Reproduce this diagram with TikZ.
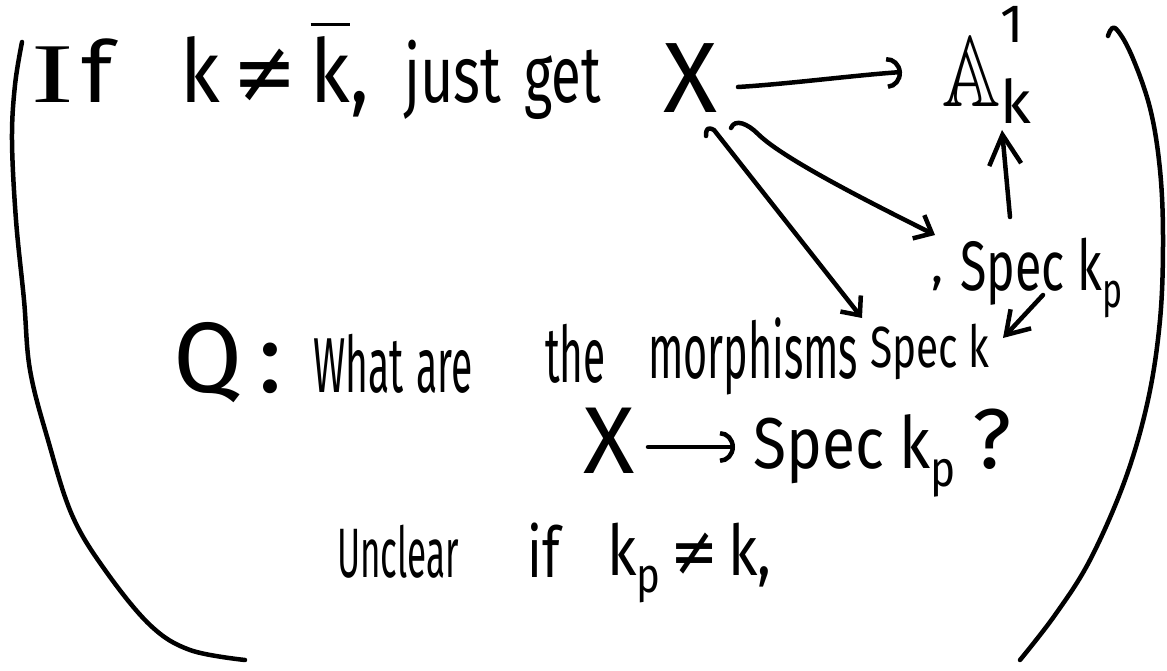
\documentclass[tikz,border=0pt]{standalone}
\usepackage{amsmath,amssymb}
\usepackage{graphicx}
\usepackage{fontspec}
\setmainfont{Fira Sans}
\newfontfamily\symf{DejaVu Sans}
\newfontfamily\serif{Liberation Serif}
\usetikzlibrary{arrows.meta}
\newcommand{\fsz}[1]{\fontsize{#1}{#1}\selectfont}
\newcommand{\hsc}[2]{\scalebox{#1}[1]{#2}}
\newcommand{\neqs}{{\symf ≠}}
\begin{document}
\begin{tikzpicture}[x=1pt,y=-1pt,
  pen/.style={line width=4.5pt,line cap=round,line join=round},
  txt/.style={inner sep=0pt,anchor=base west},
  ctr/.style={inner sep=0pt},
  arcarrow/.style={pen,-{Arc Barb[length=15pt,width=32pt]}},
  vee/.style={pen,-{Straight Barb[length=15pt,width=26pt]}}]
\fill[white] (0,0) rectangle (1167,671);
\useasboundingbox (0,0) rectangle (1167,671);

% line 1
\node[txt] (tIf) at (31,103) {\fsz{85}\hsc{1.5}{\serif I}\kern8pt\hsc{1.1}{f}};
\node[txt] (tKK) at (180,103) {\fsz{88}\hsc{0.88}{k\,\neqs\,$\overline{\text{k}}$,}};
\node[txt] (tJust) at (404,103) {\fsz{80}\hsc{0.72}{just}};
\node[txt] (tGet) at (524,103) {\fsz{80}\hsc{0.68}{get}};
\node[ctr] (X1) at (690,78) {\fsz{100}X};
\node[txt] (A) at (942,107) {{\fsz{24}\scalebox{3.35}[4.2]{$\mathbb{A}$}}\makebox[0pt][l]{\raisebox{64pt}{\fsz{54}1}}\raisebox{-17pt}{\fsz{60}k}};

% diagram
\node[txt] (cm) at (931,282) {\fsz{50},};
\node[txt] (Skp) at (960,290) {\fsz{70}\hsc{0.69}{Spec k\textsubscript{p}}};
\node[txt] (Sk) at (870,367) {\fsz{58}\hsc{0.7}{Spec k}};

% Q line
\node[txt] (Q) at (173,392) {\fsz{100}Q\,:};
\node[txt] (wWhat) at (313,392) {\fsz{78}\hsc{0.5}{What}};
\node[txt] (wAre) at (416,392) {\fsz{78}\hsc{0.5}{are}};
\node[txt] (wThe) at (545,382) {\fsz{78}\hsc{0.52}{the}};
\node[txt] (wMor) at (648,378) {\fsz{78}\hsc{0.53}{morphisms}};

% line 3
\node[ctr] (X3) at (609,441) {\fsz{95}X};
\node[txt] (Skp3) at (753,468) {\fsz{72}\hsc{0.84}{Spec k\textsubscript{p}}};
\node[txt] (qm) at (972,468) {\fsz{85}?};

% line 4
\node[txt] (wUn) at (337,577) {\fsz{70}\hsc{0.5}{Unclear}};
\node[txt] (wIf) at (527,577) {\fsz{70}\hsc{0.75}{if}};
\node[txt] (wKp) at (607,575) {\fsz{70}\hsc{0.82}{k\textsubscript{p}\,\neqs\,k,}};

% arrows
\draw[arcarrow] ([shift={(48,9)}]X1.center) .. controls +(50,-3) and +(-45,3) .. ([shift={(-40,-35)}]A.base west);
\draw[vee] ([shift={(16,58)}]X1.center) .. controls +(0,-8) and +(-6,-3) .. ([shift={(24,52)}]X1.center) -- ([shift={(-8,-49)}]Sk.base west);
\draw[vee] ([shift={(41,50)}]X1.center) .. controls +(4,-10) and +(-10,-10) .. ([shift={(68,56)}]X1.center) .. controls +(25,25) and +(-60,-30) .. ([shift={(-25,-55)}]Skp.base west);
\draw[pen,-{Straight Barb[length=30pt,width=32pt]}] ([shift={(50,-73)}]Skp.base west) -- ([shift={(60,23)}]A.base west);
\draw[pen,-{Straight Barb[length=22pt,width=28pt]}] ([shift={(83,5)}]Skp.base west) -- ([shift={(133,-29)}]Sk.base west);
\draw[arcarrow] ([shift={(39,6)}]X3.center) -- ([shift={(-18,-21)}]Skp3.base west);

% brackets
\draw[pen] plot[smooth,tension=0.6] coordinates {(22,42) (15,85) (12,140) (16,220) (24,300) (30,370) (48,440) (72,515) (105,570) (150,625) (190,650) (245,660)};
\draw[pen] plot[smooth,tension=0.6] coordinates {(1108,36) (1115,28) (1131,54) (1150,108) (1160,170) (1163,240) (1160,320) (1148,400) (1125,480) (1090,560) (1055,615) (1020,660)};
\end{tikzpicture}
\end{document}
